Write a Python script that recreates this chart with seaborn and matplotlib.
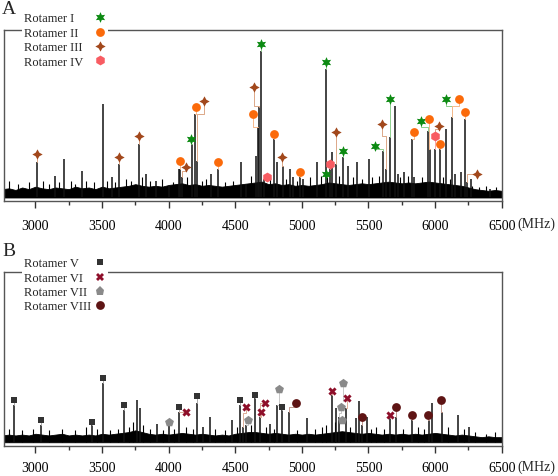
import numpy as np
import pandas as pd
import seaborn as sns
import matplotlib
matplotlib.use("Agg")
import matplotlib.pyplot as plt
from matplotlib.lines import Line2D
from matplotlib.patches import Rectangle

sns.set_theme(style="white")
plt.rcParams['font.family'] = ['Liberation Serif', 'DejaVu Serif']

nan = np.nan
# ---------------- Panel A data ----------------
a_peak_x = [3015, 3143, 3211, 3346, 3504, 3571, 3624, 3774, 3827, 3907, 4000, 4078, 4088, 4100,
            4178, 4201, 4216, 4316, 4368, 4541, 4579, 4654, 4671, 4677, 4690, 4717, 4792, 4812,
            4855, 4908, 4935, 4985, 5010, 5111, 5178, 5211, 5228, 5256, 5306, 5348, 5411, 5504,
            5611, 5629, 5659, 5699, 5720, 5769, 5829, 5844, 5950, 5963, 6000, 6040, 6083, 6130,
            6150, 6193, 6226, 6238, 6268, 6414]
a_peak_h = [0.21, 0.13, 0.23, 0.16, 0.56, 0.12, 0.20, 0.32, 0.14, 0.10, 0.07, 0.17, 0.17, 0.12,
            0.32, 0.50, 0.22, 0.14, 0.17, 0.21, 0.08, 0.25, 0.42, 0.54, 0.88, 0.11, 0.35, 0.21,
            0.19, 0.17, 0.12, 0.12, 0.11, 0.21, 0.77, 0.17, 0.27, 0.20, 0.24, 0.19, 0.21, 0.23,
            0.28, 0.17, 0.36, 0.55, 0.14, 0.15, 0.35, 0.12, 0.40, 0.29, 0.29, 0.29, 0.41, 0.48,
            0.14, 0.15, 0.47, 0.09, 0.11, 0.05]
a_grass_x = [2800, 2870, 2950, 3060, 3100, 3180, 3270, 3300, 3380, 3440, 3540, 3600, 3680, 3720,
             3800, 3860, 3950, 4030, 4140, 4250, 4280, 4420, 4480, 4620, 4760, 4880, 4960, 5060,
             5140, 5190, 5280, 5380, 5450, 5530, 5580, 5740, 5800, 5900, 6060, 6110, 6280, 6330,
             6380, 6460]
a_grass_h = [0.10, 0.08, 0.09, 0.10, 0.08, 0.09, 0.10, 0.08, 0.10, 0.09, 0.10, 0.09, 0.11, 0.10,
             0.12, 0.10, 0.11, 0.09, 0.12, 0.10, 0.11, 0.09, 0.10, 0.13, 0.12, 0.11, 0.10, 0.12,
             0.13, 0.12, 0.13, 0.12, 0.11, 0.12, 0.13, 0.12, 0.13, 0.12, 0.12, 0.11, 0.07, 0.06,
             0.07, 0.06]
noise_x = list(range(2750, 6501, 50))
a_noise = [0.05, 0.055, 0.045, 0.06, 0.05, 0.065, 0.055, 0.05, 0.06, 0.055, 0.05, 0.065, 0.055,
           0.06, 0.05, 0.065, 0.055, 0.06, 0.065, 0.07, 0.08, 0.07, 0.065, 0.07, 0.065, 0.075,
           0.08, 0.085, 0.075, 0.08, 0.07, 0.075, 0.07, 0.065, 0.07, 0.075, 0.08, 0.085, 0.09,
           0.095, 0.08, 0.085, 0.075, 0.08, 0.07, 0.075, 0.07, 0.075, 0.08, 0.09, 0.085, 0.08,
           0.075, 0.08, 0.085, 0.08, 0.085, 0.09, 0.095, 0.09, 0.085, 0.09, 0.085, 0.09, 0.095,
           0.09, 0.085, 0.08, 0.075, 0.07, 0.06, 0.05, 0.045, 0.04, 0.045, 0.04]

# Rotamers, panel A: marker x/y, linked peak x/top, elbow height
r1_mx = [4165, 4692, 5183, 5178, 5306, 5547, 5659, 5893, 6085]
r1_my = [0.35, 0.92, 0.81, 0.14, 0.28, 0.31, 0.59, 0.46, 0.59]
r1_px = [4178, 4690, 5178, nan, 5306, 5611, 5659, 5950, 6130]
r1_pt = [0.32, 0.88, 0.77, nan, 0.24, 0.28, 0.36, 0.40, 0.48]
r1_ey = [0.32, 0.88, 0.77, nan, 0.24, 0.29, 0.36, 0.42, 0.55]

r2_mx = [4083, 4205, 4368, 4634, 4792, 4988, 5839, 5957, 6040, 6178, 6228]
r2_my = [0.22, 0.54, 0.21, 0.50, 0.38, 0.15, 0.39, 0.47, 0.32, 0.59, 0.51]
r2_px = [4088, 4201, 4368, 4671, 4792, 4985, 5829, 5963, 6040, 6130, 6226]
r2_pt = [0.17, 0.50, 0.17, 0.42, 0.35, 0.12, 0.35, 0.29, 0.29, 0.48, 0.47]
r2_ey = [0.17, 0.50, 0.17, 0.42, 0.35, 0.12, 0.35, 0.29, 0.29, 0.55, 0.47]

r3_mx = [3015, 3624, 3774, 4128, 4265, 4641, 4850, 5253, 5604, 6032, 6314]
r3_my = [0.26, 0.24, 0.37, 0.18, 0.58, 0.66, 0.24, 0.39, 0.44, 0.43, 0.14]
r3_px = [3015, 3624, 3774, 4100, 4216, 4677, 4855, 5256, 5629, 6000, 6238]
r3_pt = [0.21, 0.20, 0.32, 0.12, 0.22, 0.54, 0.19, 0.20, 0.17, 0.29, 0.09]
r3_ey = [0.21, 0.20, 0.32, 0.16, 0.50, 0.55, 0.19, 0.20, 0.37, 0.41, 0.14]

r4_mx = [4737, 5211, 6002]
r4_my = [0.12, 0.20, 0.37]
r4_px = [nan, 5211, 6000]
r4_pt = [nan, 0.17, 0.29]
r4_ey = [nan, 0.17, 0.29]

# ---------------- Panel B data ----------------
b_peak_x = [2842, 3038, 3421, 3504, 3664, 3765, 3787, 3912, 4002, 4077, 4216, 4256, 4308, 4479,
            4539, 4558, 4577, 4649, 4684, 4759, 4810, 4847, 4902, 5040, 5226, 5253, 5281, 5331,
            5404, 5429, 5449, 5487, 5662, 5705, 5825, 5955, 5975, 6050, 6175, 6251]
b_peak_h = [0.22, 0.10, 0.10, 0.35, 0.19, 0.25, 0.20, 0.11, 0.10, 0.18, 0.23, 0.09, 0.15, 0.13,
            0.22, 0.09, 0.10, 0.26, 0.15, 0.11, 0.22, 0.19, 0.18, 0.14, 0.28, 0.20, 0.15, 0.20,
            0.14, 0.24, 0.10, 0.15, 0.14, 0.15, 0.13, 0.13, 0.23, 0.18, 0.16, 0.09]
b_grass_x = [2800, 2900, 2980, 3100, 3200, 3300, 3380, 3460, 3560, 3620, 3700, 3730, 3810, 3860,
             3960, 4040, 4130, 4180, 4350, 4420, 4510, 4620, 4730, 4790, 4960, 5100, 5150, 5180,
             5250, 5360, 5520, 5560, 5620, 5760, 5870, 5920, 6100, 6220, 6300, 6380, 6450]
b_grass_h = [0.08, 0.07, 0.08, 0.07, 0.08, 0.07, 0.09, 0.08, 0.07, 0.08, 0.09, 0.12, 0.10, 0.08,
             0.07, 0.08, 0.09, 0.08, 0.08, 0.07, 0.09, 0.10, 0.09, 0.08, 0.07, 0.08, 0.09, 0.10,
             0.12, 0.09, 0.08, 0.09, 0.08, 0.08, 0.09, 0.08, 0.09, 0.08, 0.06, 0.05, 0.06]
b_noise = [0.04, 0.045, 0.04, 0.045, 0.04, 0.05, 0.045, 0.04, 0.045, 0.05, 0.04, 0.045, 0.04,
           0.045, 0.04, 0.05, 0.045, 0.05, 0.055, 0.06, 0.07, 0.06, 0.05, 0.045, 0.05, 0.045,
           0.05, 0.055, 0.05, 0.045, 0.05, 0.045, 0.04, 0.045, 0.04, 0.05, 0.055, 0.06, 0.06,
           0.055, 0.05, 0.055, 0.05, 0.045, 0.05, 0.045, 0.05, 0.045, 0.05, 0.055, 0.06, 0.065,
           0.06, 0.055, 0.05, 0.055, 0.05, 0.045, 0.05, 0.045, 0.05, 0.045, 0.05, 0.045, 0.05,
           0.055, 0.05, 0.045, 0.04, 0.045, 0.04, 0.035, 0.03, 0.035, 0.03, 0.03]

r5_mx = [2842, 3038, 3421, 3506, 3664, 4075, 4213, 4539, 4647, 4850]
r5_my = [0.25, 0.13, 0.12, 0.38, 0.22, 0.21, 0.27, 0.25, 0.28, 0.21]
r5_px = [2842, 3038, 3421, 3504, 3664, 4077, 4216, 4539, 4649, 4847]
r5_pt = [0.22, 0.10, 0.10, 0.35, 0.19, 0.18, 0.23, 0.22, 0.26, 0.19]
r5_ey = [0.22, 0.10, 0.10, 0.35, 0.19, 0.18, 0.23, 0.22, 0.26, 0.19]

r6_mx = [4133, 4580, 4720, 4694, 5226, 5342, 5662]
r6_my = [0.18, 0.21, 0.23, 0.18, 0.30, 0.26, 0.16]
r6_px = [4077, 4558, 4684, 4684, 5226, 5331, 5662]
r6_pt = [0.18, 0.09, 0.15, 0.15, 0.28, 0.20, 0.14]
r6_ey = [0.18, 0.17, 0.23, 0.15, 0.28, 0.20, 0.14]

r7_mx = [4002, 4592, 4826, 5305, 5293, 5304]
r7_my = [0.12, 0.13, 0.31, 0.35, 0.21, 0.13]
r7_px = [4002, 4577, 4810, 5305, 5281, nan]
r7_pt = [0.10, 0.10, 0.22, 0.24, 0.15, nan]
r7_ey = [0.10, 0.10, 0.22, 0.24, 0.17, nan]

r8_mx = [4955, 5449, 5705, 5825, 5947, 6045]
r8_my = [0.23, 0.15, 0.21, 0.16, 0.16, 0.25]
r8_px = [4902, 5449, 5705, 5825, 5955, 6050]
r8_pt = [0.18, 0.10, 0.15, 0.13, 0.13, 0.18]
r8_ey = [0.21, 0.10, 0.15, 0.13, 0.13, 0.18]

major_ticks = [3000, 3500, 4000, 4500, 5000, 5500, 6000, 6500]
minor_ticks = [3250, 3750, 4250, 4750, 5250, 5750, 6250]
tick_labels = ["3000", "3500", "4000", "4500", "5000", "5500", "6000", "6500"]

W, H = 558, 477
fig = plt.figure(figsize=(W / 100, H / 100), dpi=100)
L, R = 3.5, 501.7
axA = fig.add_axes([L / W, 1 - 202 / H, (R - L) / W, (202 - 31) / H])
axB = fig.add_axes([L / W, 1 - 447 / H, (R - L) / W, (447 - 273) / H])


def draw_panel(ax, peak_x, peak_h, grass_x, grass_h, noise, ylim, pad):
    ax.fill_between(noise_x, 0, noise, color="black", lw=0.6, zorder=2)
    ax.vlines(grass_x, 0, grass_h, color="black", lw=0.8, zorder=2)
    ax.vlines(peak_x, 0, peak_h, color="#111111", lw=1.1, zorder=2)
    ax.set_xlim(2760, 6500)
    ax.set_ylim(*ylim)
    ax.set_yticks([])
    ax.set_xticks(major_ticks)
    ax.set_xticklabels(tick_labels)
    ax.set_xticks(minor_ticks, minor=True)
    ax.tick_params(axis="x", which="major", bottom=True, direction="out", length=5,
                   width=1.0, color="#333333", labelsize=10, pad=pad, labelcolor="black")
    ax.tick_params(axis="x", which="minor", bottom=True, direction="out", length=3,
                   width=1.0, color="#333333")
    for s in ax.spines.values():
        s.set_color("#555555")
        s.set_linewidth(1.0)
    ax.set_facecolor("white")
    ax.annotate("(MHz)", xy=(1, 0), xycoords="axes fraction", xytext=(11.5, -(5 + pad) + 1.5),
                textcoords="offset points", ha="left", va="top", fontsize=10)


def draw_rotamer(ax, mx, my, px, pt, ey, marker, color, lcolor, size):
    for xm, ym, xp, yp, ye in zip(mx, my, px, pt, ey):
        if np.isnan(xp):
            continue
        ax.plot([xm, xm, xp, xp], [ym, ye, ye, yp], color=lcolor, lw=0.7, zorder=3)
    df = pd.DataFrame({"x": mx, "y": my})
    sns.scatterplot(data=df, x="x", y="y", ax=ax, marker=marker, color=color, s=size,
                    linewidth=0, zorder=4, legend=False)
    ax.set_xlabel("")
    ax.set_ylabel("")


draw_panel(axA, a_peak_x, a_peak_h, a_grass_x, a_grass_h, a_noise, (-0.021, 1.003), 8)
draw_panel(axB, b_peak_x, b_peak_h, b_grass_x, b_grass_h, b_noise, (-0.022, 1.0), 6)

specA = [
    ("Rotamer I", r1_mx, r1_my, r1_px, r1_pt, r1_ey, (6, 1, 0), "#0c8a12", "#8fd08f", 60),
    ("Rotamer II", r2_mx, r2_my, r2_px, r2_pt, r2_ey, "o", "#fb6a0a", "#f7b98c", 40),
    ("Rotamer III", r3_mx, r3_my, r3_px, r3_pt, r3_ey, (4, 1, 0), "#a2481c", "#dca888", 55),
    ("Rotamer IV", r4_mx, r4_my, r4_px, r4_pt, r4_ey, "h", "#f85c62", "#f7a8a8", 50),
]
specB = [
    ("Rotamer V", r5_mx, r5_my, r5_px, r5_pt, r5_ey, "s", "#333333", "#aaaaaa", 25),
    ("Rotamer VI", r6_mx, r6_my, r6_px, r6_pt, r6_ey, "X", "#8e0f2a", "#dcae98", 35),
    ("Rotamer VII", r7_mx, r7_my, r7_px, r7_pt, r7_ey, "p", "#8a8a8a", "#c8c8c8", 45),
    ("Rotamer VIII", r8_mx, r8_my, r8_px, r8_pt, r8_ey, "o", "#5e1414", "#c49a90", 40),
]

# legend blocks: row centres y (pixels), spine y (pixels)
legA_rows = [18, 32.5, 46.8, 61]
legB_rows = [263, 277.5, 291.7, 306]
for ax, spec, rows, spine_y in [(axA, specA, legA_rows, 31), (axB, specB, legB_rows, 273)]:
    fig.add_artist(Rectangle((21.5 / W, 1 - (spine_y + 4) / H), 86 / W, 8 / H,
                             transform=fig.transFigure, facecolor="white", edgecolor="none",
                             zorder=5))
    for (name, mx, my, px, pt, ey, mk, col, lcol, sz), yc in zip(spec, rows):
        draw_rotamer(ax, mx, my, px, pt, ey, mk, col, lcol, sz)
        fig.text(24 / W, 1 - yc / H, name, fontsize=9, ha="left", va="center_baseline",
                 zorder=6)
        fig.add_artist(Line2D([100 / W], [1 - yc / H], transform=fig.transFigure, ls="none",
                              marker=mk, color=col, markeredgewidth=0,
                              markersize=np.sqrt(sz), zorder=6))

fig.text(2 / W, 1 - 9 / H, "A", fontsize=14, ha="left", va="center")
fig.text(2 / W, 1 - 252 / H, "B", fontsize=14, ha="left", va="center")

fig.savefig("out.png", dpi=100, facecolor="white")
